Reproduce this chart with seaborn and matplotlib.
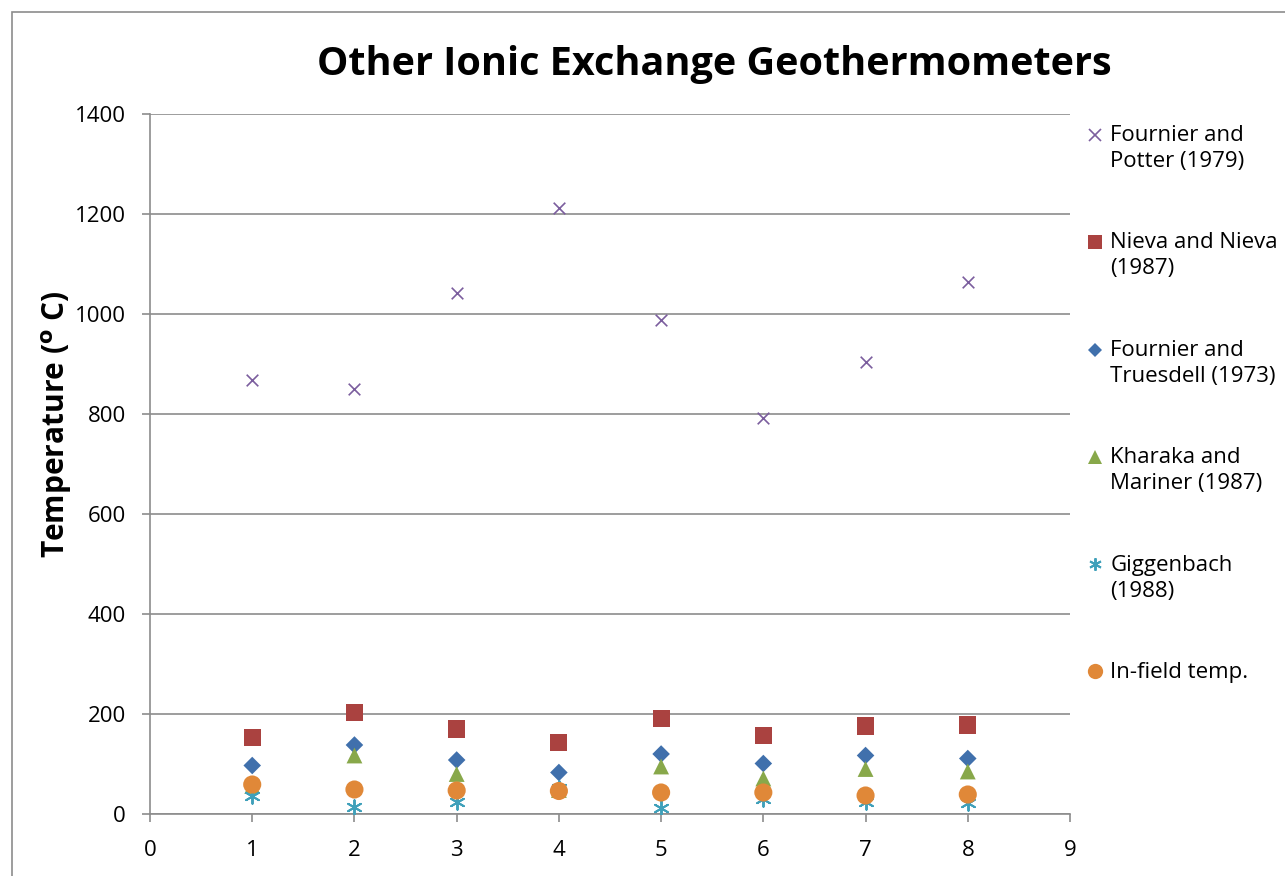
import matplotlib
matplotlib.use("Agg")
import matplotlib.pyplot as plt
from matplotlib.patches import Rectangle
from matplotlib.lines import Line2D
from matplotlib.legend_handler import HandlerLine2D
from matplotlib.transforms import Affine2D
import seaborn as sns
import pandas as pd

# Sample numbers (1-8) and calculated temperatures (deg C)
samples = [1, 2, 3, 4, 5, 6, 7, 8]
fournier_potter = [868, 850, 1042, 1212, 988, 792, 905, 1065]
nieva_nieva = [153, 203, 170, 143, 191, 157, 176, 178]
fournier_truesdell = [97, 138, 108, 83, 120, 101, 117, 111]
kharaka_mariner = [56, 117, 80, 48, 95, 71, 90, 85]
giggenbach = [36, 15, 25, 52, 13, 31, 25, 23]
in_field = [59, 49, 47, 46, 43, 43, 37, 39]

series_labels = [
    "Fournier and\nPotter (1979)",
    "Nieva and Nieva\n(1987)",
    "Fournier and\nTruesdell (1973)",
    "Kharaka and\nMariner (1987)",
    "Giggenbach\n(1988)",
    "In-field temp.",
]
series_values = [fournier_potter, nieva_nieva, fournier_truesdell,
                 kharaka_mariner, giggenbach, in_field]

styles = [
    dict(marker="x", color="#7B5E9E", s=70, linewidth=1.2, ms=8),
    dict(marker="s", color="#AA4240", s=150, linewidth=0, ms=10),
    dict(marker="D", color="#4070AC", s=80, linewidth=0, ms=7),
    dict(marker="^", color="#88A84A", s=130, linewidth=0, ms=10),
    dict(marker=(6, 2, 0), color="#3FA0BA", s=110, linewidth=1.4, ms=9),
    dict(marker="o", color="#E08838", s=170, linewidth=0, ms=11),
]


class FirstLineHandler(HandlerLine2D):
    """Puts the legend marker next to the first line of a two-line label."""

    def __init__(self, shift_px=0.0, **kw):
        super().__init__(**kw)
        self.shift_px = shift_px

    def create_artists(self, legend, orig_handle, xdescent, ydescent,
                       width, height, fontsize, trans):
        trans = trans + Affine2D().translate(0, self.shift_px)
        return super().create_artists(legend, orig_handle, xdescent,
                                      ydescent, width, height, fontsize,
                                      trans)


sns.set_theme(style="white")
plt.rcParams["font.family"] = ["Open Sans", "DejaVu Sans"]
plt.rcParams["text.color"] = "black"

fig = plt.figure(figsize=(12.85, 8.76), dpi=100)
ax = fig.add_axes([150 / 1285, 62 / 876, 920 / 1285, 700 / 876])

legend_handles = []
handler_map = {}
for label, vals, st in zip(series_labels, series_values, styles):
    df = pd.DataFrame({"sample": samples, "temp": vals})
    st = dict(st)
    c = st.pop("color")
    ms = st.pop("ms")
    line_marker = st["marker"] in ("x",) or isinstance(st["marker"], tuple)
    sns.scatterplot(data=df, x="sample", y="temp", ax=ax, color=c,
                    edgecolor=c if line_marker else "none", zorder=3,
                    legend=False, **st)
    h = Line2D([], [], linestyle="none", marker=st["marker"], color=c,
               markersize=ms, markeredgewidth=st["linewidth"] if line_marker else 0,
               markeredgecolor=c)
    legend_handles.append(h)
    handler_map[h] = FirstLineHandler(shift_px=14 if "\n" in label else 0)

ax.set_xlim(0, 9)
ax.set_ylim(0, 1400)
ax.set_xticks(range(0, 10))
ax.set_yticks(range(0, 1401, 200))
ax.grid(axis="y", color="#8C8C8C", linewidth=1.2)
ax.set_axisbelow(True)
for side in ("top", "right"):
    ax.spines[side].set_visible(False)
for side in ("left", "bottom"):
    ax.spines[side].set_color("#8C8C8C")
    ax.spines[side].set_linewidth(1.2)
ax.tick_params(axis="both", which="both", direction="out", length=5.5,
               width=1.2, color="#8C8C8C", labelsize=16, labelcolor="black",
               left=True, bottom=True)
ax.tick_params(axis="y", pad=12)
ax.tick_params(axis="x", pad=13.5)
ax.set_xlabel("")
ax.set_ylabel(r"Temperature ($\mathbf{^{o}}$ C)", fontsize=21.5,
              fontweight="bold", color="black")
ax.yaxis.set_label_coords(-0.083, 0.556)

fig.text(714 / 1285, 1 - 64 / 876, "Other Ionic Exchange Geothermometers",
         ha="center", va="center", fontsize=28.5, fontweight="bold",
         color="black")

leg = ax.legend(legend_handles, series_labels, handler_map=handler_map,
                loc="upper left", bbox_to_anchor=(1087 / 1285, 1 - 125 / 876),
                bbox_transform=fig.transFigure, frameon=False, fontsize=16,
                labelspacing=2.73, handlelength=0.7, handletextpad=0.35,
                borderaxespad=0, borderpad=0)
for t in leg.get_texts():
    t.set_linespacing(1.3)

# thin frame around the chart area
fig.patches.append(Rectangle((12 / 1285, -0.01), 1.2, 1 - 12 / 876 + 0.01,
                             transform=fig.transFigure, fill=False,
                             edgecolor="#8C8C8C", linewidth=1.2))

fig.savefig("out.png", dpi=100)
